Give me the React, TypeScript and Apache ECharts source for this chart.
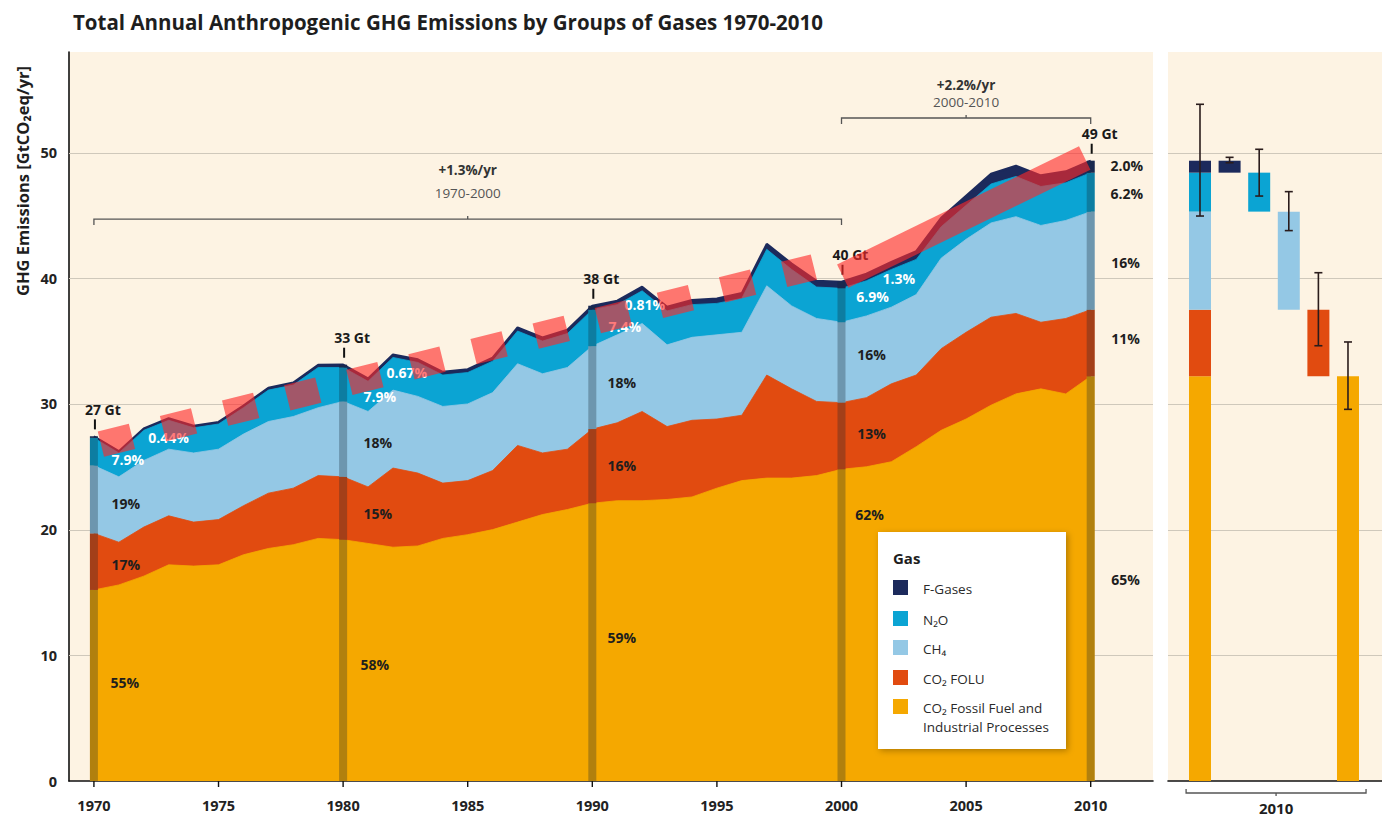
import { useEffect, useRef } from 'react';
import * as echarts from 'echarts';

const FONT = "'Open Sans', 'Noto Sans', 'DejaVu Sans', sans-serif";

// ---------- data (GtCO2eq/yr) ----------
const years = [
  1970, 1971, 1972, 1973, 1974, 1975, 1976, 1977, 1978, 1979, 1980,
  1981, 1982, 1983, 1984, 1985, 1986, 1987, 1988, 1989, 1990,
  1991, 1992, 1993, 1994, 1995, 1996, 1997, 1998, 1999, 2000,
  2001, 2002, 2003, 2004, 2005, 2006, 2007, 2008, 2009, 2010,
];
const fossilCO2 = [
  15.2, 15.6, 16.3, 17.2, 17.1, 17.2, 18.0, 18.5, 18.8, 19.3, 19.2,
  18.9, 18.6, 18.7, 19.3, 19.6, 20.0, 20.6, 21.2, 21.6, 22.1,
  22.3, 22.3, 22.4, 22.6, 23.3, 23.9, 24.1, 24.1, 24.3, 24.8,
  25.0, 25.4, 26.6, 27.9, 28.8, 29.9, 30.8, 31.2, 30.8, 32.2,
];
const foluCO2 = [
  4.5, 3.4, 3.9, 3.9, 3.5, 3.6, 3.9, 4.4, 4.5, 5.0, 5.0,
  4.5, 6.3, 5.8, 4.4, 4.3, 4.7, 6.1, 4.9, 4.8, 5.9,
  6.2, 7.1, 5.8, 6.1, 5.5, 5.2, 8.2, 7.1, 5.9, 5.3,
  5.5, 6.2, 5.7, 6.5, 6.9, 7.0, 6.4, 5.3, 6.0, 5.3,
];
const ch4 = [
  5.4, 5.2, 5.3, 5.3, 5.5, 5.6, 5.7, 5.7, 5.7, 5.4, 6.0,
  6.0, 6.2, 6.1, 6.1, 6.1, 6.2, 6.5, 6.3, 6.5, 6.6,
  7.0, 7.0, 6.5, 6.6, 6.7, 6.6, 7.1, 6.6, 6.6, 6.4,
  6.5, 6.1, 6.4, 7.2, 7.4, 7.5, 7.7, 7.7, 7.8, 7.8,
];
const n2o = [
  2.2, 1.9, 2.4, 2.3, 2.0, 2.0, 2.1, 2.5, 2.5, 3.2, 2.7,
  2.4, 2.6, 2.7, 2.5, 2.5, 2.5, 2.6, 2.6, 2.7, 2.9,
  2.4, 2.6, 2.7, 2.6, 2.5, 2.7, 2.9, 2.9, 2.5, 2.7,
  2.8, 3.0, 2.8, 2.5, 2.7, 3.1, 3.2, 3.1, 3.0, 3.1,
];
const fGases = [
  0.12, 0.13, 0.14, 0.15, 0.15, 0.16, 0.17, 0.18, 0.19, 0.21, 0.22,
  0.22, 0.23, 0.24, 0.25, 0.26, 0.27, 0.28, 0.29, 0.3, 0.31,
  0.31, 0.32, 0.33, 0.36, 0.38, 0.41, 0.43, 0.46, 0.49, 0.52,
  0.55, 0.6, 0.65, 0.7, 0.75, 0.8, 0.85, 0.88, 0.9, 0.95,
];

const gasNames = ['CO₂ Fossil Fuel and\nIndustrial Processes', 'CO₂ FOLU', 'CH₄', 'N₂O', 'F-Gases'];
const layerColors = ['#f5a800', '#e14b10', '#94c8e5', '#0ba4d3', '#1c2a5c'];

const xTickYears = [1970, 1975, 1980, 1985, 1990, 1995, 2000, 2005, 2010];
const gridValues = [10, 20, 30, 40, 50];
const decadeYears = [1970, 1980, 1990, 2000, 2010];
const decadeTotalLabels = ['27 Gt', '33 Gt', '38 Gt', '40 Gt', '49 Gt'];

// share labels (year, value position, text, tone)
const shareLabels = [
  { year: 1971.24, value: 7.82, text: '55%', tone: 'dark' },
  { year: 1971.28, value: 17.25, text: '17%', tone: 'dark' },
  { year: 1971.28, value: 22.1, text: '19%', tone: 'dark' },
  { year: 1971.36, value: 25.54, text: '7.9%', tone: 'light' },
  { year: 1973.0, value: 27.29, text: '0.44%', tone: 'light' },
  { year: 1981.27, value: 9.23, text: '58%', tone: 'dark' },
  { year: 1981.39, value: 21.32, text: '15%', tone: 'dark' },
  { year: 1981.39, value: 26.97, text: '18%', tone: 'dark' },
  { year: 1981.47, value: 30.63, text: '7.9%', tone: 'light' },
  { year: 1982.56, value: 32.54, text: '0.67%', tone: 'light' },
  { year: 1991.18, value: 11.38, text: '59%', tone: 'dark' },
  { year: 1991.18, value: 25.14, text: '16%', tone: 'dark' },
  { year: 1991.18, value: 31.67, text: '18%', tone: 'dark' },
  { year: 1991.3, value: 36.2, text: '7.4%', tone: 'light' },
  { year: 1992.11, value: 37.95, text: '0.81%', tone: 'light' },
  { year: 2001.13, value: 21.24, text: '62%', tone: 'dark' },
  { year: 2001.21, value: 27.61, text: '13%', tone: 'dark' },
  { year: 2001.21, value: 33.97, text: '16%', tone: 'dark' },
  { year: 2001.25, value: 38.51, text: '6.9%', tone: 'light' },
  { year: 2002.3, value: 39.94, text: '1.3%', tone: 'light' },
  { year: 2011.4, value: 16.07, text: '65%', tone: 'dark' },
  { year: 2011.4, value: 35.17, text: '11%', tone: 'dark' },
  { year: 2011.4, value: 41.29, text: '16%', tone: 'dark' },
  { year: 2011.45, value: 46.78, text: '6.2%', tone: 'dark' },
  { year: 2011.45, value: 49.0, text: '2.0%', tone: 'dark' },
];

const brackets = [
  { from: 1970, to: 2000, level: 44.71, rate: '+1.3%/yr', span: '1970-2000', rateAt: 48.61, spanAt: 46.78 },
  { from: 2000, to: 2010, level: 52.75, rate: '+2.2%/yr', span: '2000-2010', rateAt: 55.37, spanAt: 54.04 },
];

// highlighted growth trend (red overlay)
const trend1970to2000 = [[1970.28, 26.81], [1998.89, 40.89]];
const trend2000to2010 = [[2000.05, 40.17], [2009.76, 49.57]];

// 2010 uncertainty ranges: total, F-Gases, N2O, CH4, CO2 FOLU, CO2 FF&IP
const uncertaintyLow = [44.95, 49.19, 46.54, 43.79, 34.63, 29.57];
const uncertaintyHigh = [53.84, 49.62, 50.26, 46.89, 40.44, 34.93];
const rightBracketLabel = '2010';

const layers = [fossilCO2, foluCO2, ch4, n2o, fGases];

function buildOption(): any {
  const last = years.length - 1;
  // cumulative tops of each layer for every year
  const cumTops: number[][] = layers.map(() => []);
  years.forEach((_y, i) => {
    let acc = 0;
    layers.forEach((arr, k) => { acc += arr[i]; cumTops[k].push(acc); });
  });
  const v2010 = layers.map((l) => l[last]);
  const cum2010: number[] = [];
  let acc = 0;
  v2010.forEach((v) => { cum2010.push(acc); acc += v; });
  // right panel bars: [x, low, high, layerIndex]
  const rightBars: number[][] = [];
  v2010.forEach((v, k) => rightBars.push([0, cum2010[k], cum2010[k] + v, k]));
  v2010.forEach((v, k) => rightBars.push([5 - k, cum2010[k], cum2010[k] + v, k]));

  const gridLineSeries = (gi: number) => ({
    type: 'custom',
    xAxisIndex: gi,
    yAxisIndex: gi,
    z: 1,
    silent: true,
    data: gridValues.map((v) => [gi === 0 ? 1990 : 2, v]),
    renderItem: (params: any, api: any) => {
      const cs = params.coordSys;
      const y = Math.round(api.coord([api.value(0), api.value(1)])[1]) + 0.5;
      return {
        type: 'line',
        shape: { x1: cs.x, y1: y, x2: cs.x + cs.width, y2: y },
        style: { stroke: '#cfc8bb', lineWidth: 1 },
      };
    },
  });

  // draw from top layer down so each lower layer covers the part of the one above
  const areaSeries = [4, 3, 2, 1, 0].map((k) => ({
    name: gasNames[k],
    type: 'line',
    xAxisIndex: 0,
    yAxisIndex: 0,
    z: 2,
    symbol: 'none',
    silent: true,
    data: years.map((y, i) => [y, cumTops[k][i]]),
    lineStyle: k === 4 ? { color: layerColors[4], width: 2.2 } : { color: layerColors[k], width: 0.8 },
    areaStyle: { color: layerColors[k], opacity: 1, origin: 'start' },
  }));

  return {
    animation: false,
    backgroundColor: '#ffffff',
    textStyle: { fontFamily: FONT },
    title: {
      text: 'Total Annual Anthropogenic GHG Emissions by Groups of Gases 1970-2010',
      left: 68,
      top: 6,
      textStyle: { fontFamily: FONT, fontSize: 20.5, fontWeight: 'bold', color: '#1e1e1e' },
    },
    grid: [
      { left: 69, right: 229, top: 52, bottom: 37, show: true, backgroundColor: '#fdf3e3', borderWidth: 0 },
      { left: 1168, right: 0, top: 52, bottom: 37, show: true, backgroundColor: '#fdf3e3', borderWidth: 0 },
    ],
    xAxis: [
      {
        type: 'value', gridIndex: 0, min: 1969, max: 2012.5, interval: 1,
        axisLine: { show: true, onZero: false, lineStyle: { color: '#111', width: 1.6 } },
        axisTick: { show: false },
        splitLine: { show: false },
        axisLabel: {
          margin: 17, fontSize: 14.5, fontWeight: 'bold', color: '#222', fontFamily: FONT,
          formatter: (v: number) => (v % 5 === 0 ? String(v) : ''),
          showMinLabel: true, showMaxLabel: false,
        },
      },
      {
        type: 'value', gridIndex: 1, min: -1.081, max: 6.149,
        axisLine: { show: true, onZero: false, lineStyle: { color: '#111', width: 1.6 } },
        axisTick: { show: false }, splitLine: { show: false }, axisLabel: { show: false },
      },
    ],
    yAxis: [
      {
        type: 'value', gridIndex: 0, min: 0, max: 58, interval: 10,
        axisLine: { show: true, lineStyle: { color: '#111', width: 1.6 } },
        axisTick: { show: false },
        splitLine: { show: false },
        axisLabel: {
          margin: 12, fontSize: 14.5, fontWeight: 'bold', color: '#222', fontFamily: FONT,
          formatter: (v: number) => (v % 10 === 0 ? String(v) : ''),
          showMaxLabel: false,
        },
      },
      {
        type: 'value', gridIndex: 1, min: 0, max: 58, interval: 10,
        axisLine: { show: false }, axisTick: { show: false }, splitLine: { show: false }, axisLabel: { show: false },
      },
    ],
    graphic: [
      {
        type: 'text', x: 22, y: 181, rotation: Math.PI / 2, z: 100,
        style: { text: 'GHG Emissions [GtCO₂eq/yr]', font: `bold 16.5px ${FONT}`, fill: '#1e1e1e', align: 'center', verticalAlign: 'middle' },
      },
      {
        type: 'rect', z: 100, shape: { x: 878, y: 532, width: 188, height: 217 },
        style: { fill: '#ffffff', shadowBlur: 6, shadowColor: 'rgba(0,0,0,0.28)', shadowOffsetX: 2, shadowOffsetY: 2 },
      },
      {
        type: 'text', z: 101, x: 893, y: 558,
        style: { text: 'Gas', font: `bold 15px ${FONT}`, fill: '#1e1e1e', verticalAlign: 'middle' },
      },
      ...[4, 3, 2, 1, 0].flatMap((k, row) => {
        const cy = [588, 619, 648, 678, 707][row];
        return [
          { type: 'rect', z: 101, shape: { x: 893, y: cy - 8, width: 15, height: 15 }, style: { fill: layerColors[k] } },
          {
            type: 'text', z: 101, x: 923, y: cy - 9,
            style: { text: gasNames[k], font: `13.5px ${FONT}`, fill: '#2a2a2a', verticalAlign: 'top', lineHeight: 19 },
          },
        ];
      }),
    ],
    series: [
      gridLineSeries(0),
      gridLineSeries(1),
      ...areaSeries,
      // decade bars with totals
      {
        type: 'custom', xAxisIndex: 0, yAxisIndex: 0, z: 3, silent: true,
        data: decadeYears.map((y, i) => [y, 0, i]),
        renderItem: (_p: any, api: any) => {
          const year = api.value(0);
          const idx = api.value(2);
          const i = years.indexOf(year);
          const x = api.coord([year, 0])[0];
          const yBase = api.coord([year, 0])[1];
          const children: any[] = [];
          let c = 0;
          layers.forEach((arr, k) => {
            const y0 = api.coord([year, c])[1];
            c += arr[i];
            const y1 = api.coord([year, c])[1];
            children.push({ type: 'rect', shape: { x: x - 4, y: y1, width: 8, height: y0 - y1 }, style: { fill: layerColors[k] } });
          });
          const yTop = api.coord([year, c])[1];
          children.push({ type: 'rect', shape: { x: x - 4, y: yTop, width: 8, height: yBase - yTop }, style: { fill: 'rgba(20,35,45,0.3)' } });
          children.push({ type: 'line', shape: { x1: x + 1, y1: yTop - 17, x2: x + 1, y2: yTop - 7 }, style: { stroke: '#111', lineWidth: 2 } });
          children.push({
            type: 'text',
            style: { text: decadeTotalLabels[idx], x: x + 9, y: yTop - 27, align: 'center', verticalAlign: 'middle', font: `bold 14px ${FONT}`, fill: '#1a1a1a' },
          });
          return { type: 'group', children };
        },
      },
      // x ticks
      {
        type: 'custom', xAxisIndex: 0, yAxisIndex: 0, z: 3, silent: true,
        data: xTickYears.map((y) => [y, 0]),
        renderItem: (_p: any, api: any) => {
          const p = api.coord([api.value(0), 0]);
          return { type: 'line', shape: { x1: p[0], y1: p[1], x2: p[0], y2: p[1] + 6 }, style: { stroke: '#111', lineWidth: 1.4 } };
        },
      },
      // share labels
      {
        type: 'custom', xAxisIndex: 0, yAxisIndex: 0, z: 5, silent: true,
        data: shareLabels.map((l, i) => [l.year, l.value, i]),
        renderItem: (_p: any, api: any) => {
          const l = shareLabels[api.value(2)];
          const p = api.coord([api.value(0), api.value(1)]);
          return {
            type: 'text',
            style: { text: l.text, x: p[0], y: p[1], align: 'center', verticalAlign: 'middle', font: `bold 14px ${FONT}`, fill: l.tone === 'light' ? '#ffffff' : '#1e1e1e' },
          };
        },
      },
      // growth brackets
      {
        type: 'custom', xAxisIndex: 0, yAxisIndex: 0, z: 5, silent: true,
        data: brackets.map((b, i) => [b.from, b.level, i]),
        renderItem: (_p: any, api: any) => {
          const b = brackets[api.value(2)];
          const p1 = api.coord([b.from, b.level]);
          const p2 = api.coord([b.to, b.level]);
          const mid = (b.from + b.to) / 2;
          const mx = (p1[0] + p2[0]) / 2;
          const pr = api.coord([mid, b.rateAt]);
          const ps = api.coord([mid, b.spanAt]);
          return {
            type: 'group',
            children: [
              { type: 'polyline', shape: { points: [[p1[0], p1[1] + 6], [p1[0], p1[1]], [p2[0], p2[1]], [p2[0], p2[1] + 6]] }, style: { stroke: '#555', lineWidth: 1.3, fill: 'none' } },
              { type: 'line', shape: { x1: mx, y1: p1[1], x2: mx, y2: p1[1] - 3 }, style: { stroke: '#555', lineWidth: 1.3 } },
              { type: 'text', style: { text: b.rate, x: pr[0], y: pr[1], align: 'center', verticalAlign: 'middle', font: `bold 13.5px ${FONT}`, fill: '#333' } },
              { type: 'text', style: { text: b.span, x: ps[0], y: ps[1], align: 'center', verticalAlign: 'middle', font: `13.5px ${FONT}`, fill: '#555' } },
            ],
          };
        },
      },
      // red trend overlay
      {
        type: 'line', xAxisIndex: 0, yAxisIndex: 0, z: 10, silent: true, symbol: 'none',
        data: trend1970to2000,
        lineStyle: { color: 'rgba(255,40,40,0.62)', width: 26, type: [32, 32], cap: 'butt' },
      },
      {
        type: 'line', xAxisIndex: 0, yAxisIndex: 0, z: 10, silent: true, symbol: 'none',
        data: trend2000to2010,
        lineStyle: { color: 'rgba(255,40,40,0.62)', width: 26, cap: 'butt' },
      },
      // right panel bars
      {
        type: 'custom', xAxisIndex: 1, yAxisIndex: 1, z: 3, silent: true,
        data: rightBars,
        renderItem: (_p: any, api: any) => {
          const pLow = api.coord([api.value(0), api.value(1)]);
          const pHigh = api.coord([api.value(0), api.value(2)]);
          return {
            type: 'rect',
            shape: { x: pLow[0] - 11, y: pHigh[1], width: 22, height: pLow[1] - pHigh[1] },
            style: { fill: layerColors[api.value(3)] },
          };
        },
      },
      // right panel uncertainty bars
      {
        type: 'custom', xAxisIndex: 1, yAxisIndex: 1, z: 4, silent: true,
        data: uncertaintyLow.map((lo, i) => [i, lo, uncertaintyHigh[i]]),
        renderItem: (_p: any, api: any) => {
          const a = api.coord([api.value(0), api.value(1)]);
          const b = api.coord([api.value(0), api.value(2)]);
          const st = { stroke: '#2a1c1c', lineWidth: 1.6 };
          return {
            type: 'group',
            children: [
              { type: 'line', shape: { x1: a[0], y1: a[1], x2: b[0], y2: b[1] }, style: st },
              { type: 'line', shape: { x1: a[0] - 4, y1: a[1], x2: a[0] + 4, y2: a[1] }, style: st },
              { type: 'line', shape: { x1: b[0] - 4, y1: b[1], x2: b[0] + 4, y2: b[1] }, style: st },
            ],
          };
        },
      },
      // right panel bracket
      {
        type: 'custom', xAxisIndex: 1, yAxisIndex: 1, z: 4, silent: true,
        data: [[-0.47, 5.61]],
        renderItem: (_p: any, api: any) => {
          const a = api.coord([api.value(0), 0]);
          const b = api.coord([api.value(1), 0]);
          const y = a[1] + 12;
          const mx = (a[0] + b[0]) / 2;
          return {
            type: 'group',
            children: [
              { type: 'polyline', shape: { points: [[a[0], y - 4], [a[0], y], [b[0], y], [b[0], y - 4]] }, style: { stroke: '#555', lineWidth: 1.3, fill: 'none' } },
              { type: 'line', shape: { x1: mx, y1: y, x2: mx, y2: y + 3 }, style: { stroke: '#555', lineWidth: 1.3 } },
              { type: 'text', style: { text: rightBracketLabel, x: mx, y: a[1] + 27, align: 'center', verticalAlign: 'middle', font: `bold 15px ${FONT}`, fill: '#1e1e1e' } },
            ],
          };
        },
      },
    ],
  };
}

export default function App() {
  const ref = useRef<HTMLDivElement>(null);
  useEffect(() => {
    document.body.style.margin = '0';
    const chart = echarts.init(ref.current as HTMLDivElement, null, { renderer: 'svg' });
    chart.setOption(buildOption());
    return () => chart.dispose();
  }, []);
  return <div ref={ref} style={{ width: 1382, height: 818 }} />;
}
